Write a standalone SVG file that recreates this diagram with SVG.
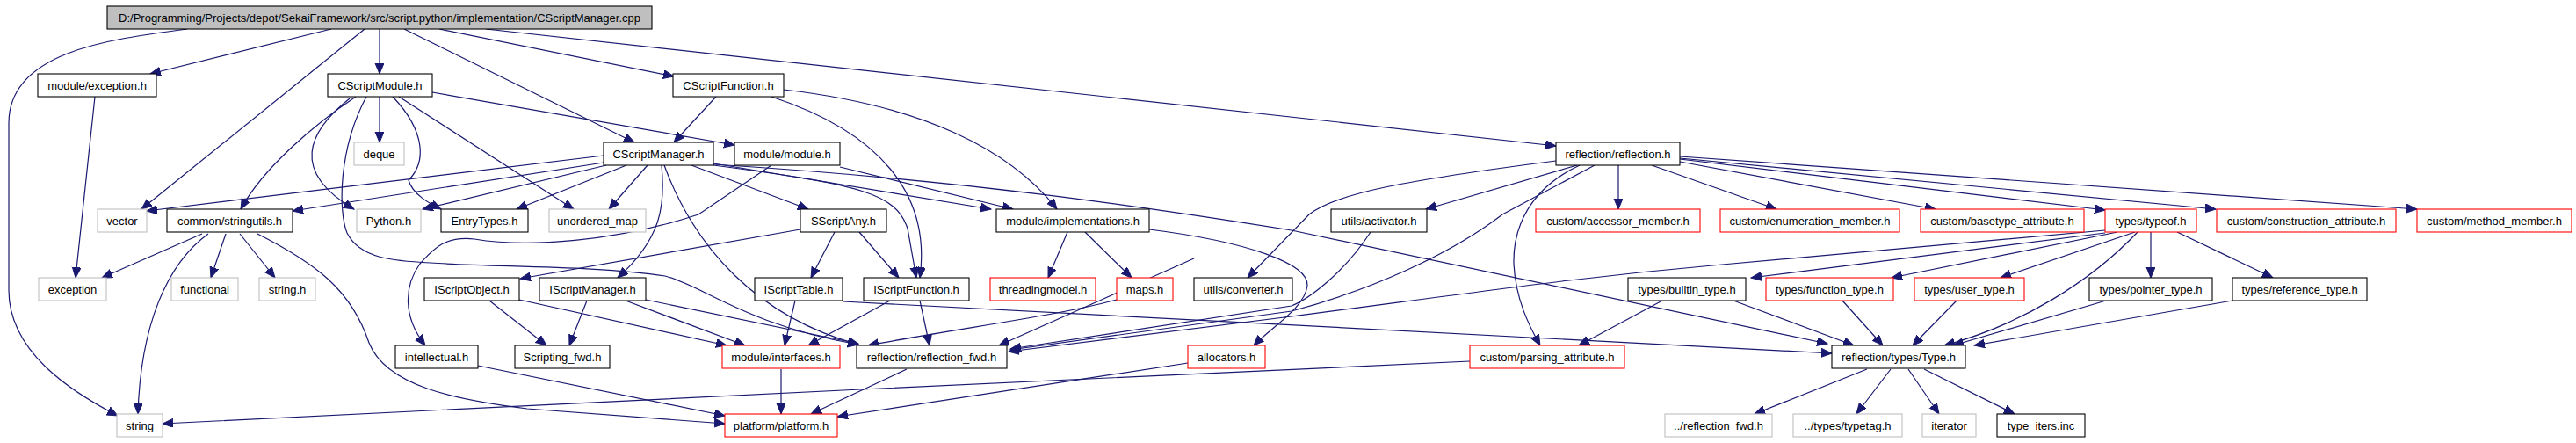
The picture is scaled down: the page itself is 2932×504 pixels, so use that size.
<svg xmlns="http://www.w3.org/2000/svg" width="2932" height="504" viewBox="0 0 2932 504">
<style>
.n rect{fill:#fff;stroke:#000;stroke-width:1.1}
.n.r rect{stroke:#ff0000}
.n.g rect{stroke:#bfbfbf}
.n.root rect{fill:#bfbfbf}
.n text{font-family:"Liberation Sans",Arial,sans-serif;font-size:13px;fill:#000;text-anchor:middle}
.e path{fill:none;stroke:#191970;stroke-width:1.2;marker-end:url(#a)}
</style>
<defs>
<marker id="a" markerUnits="userSpaceOnUse" markerWidth="13" markerHeight="11" refX="12" refY="5" orient="auto" viewBox="0 0 13 11">
<path d="M0,0 L12,5 L0,10 z" fill="#191970" stroke="#191970"/>
</marker>
</defs>
<rect width="2932" height="504" fill="#fff"/>
<g class="e" id="edges">
<path d="M213,33 C120,45 10,60 10,140 L10,330 C10,400 80,445 134,473"/>
<path d="M377,33 L171,84"/>
<path d="M415,33 L161,238"/>
<path d="M432,33 L432,84"/>
<path d="M460,33 L722,162"/>
<path d="M500,33 L767,87"/>
<path d="M553,33 L1771,166"/>
<path d="M108,110 L86,316"/>
<path d="M432,110 L432,162"/>
<path d="M405,110 C360,140 300,190 274,238"/>
<path d="M398,112 C350,150 330,195 403,238"/>
<path d="M417,110 C385,170 385,240 395,265 C410,295 450,297 490,299 C560,304 680,302 757,314 C800,325 850,370 977,392"/>
<path d="M447,110 C485,150 485,185 465,205 C470,222 490,232 502,238"/>
<path d="M454,110 L653,238"/>
<path d="M492,105 L836,165"/>
<path d="M815,110 L767,162"/>
<path d="M892,102 C1050,120 1150,170 1203,238"/>
<path d="M878,110 C1000,150 1060,220 1047,316"/>
<path d="M687,177 L167,240"/>
<path d="M687,185 L333,240"/>
<path d="M690,188 L481,238"/>
<path d="M713,188 L588,238"/>
<path d="M737,188 L693,238"/>
<path d="M753,188 C757,230 755,270 703,316"/>
<path d="M756,188 C790,280 860,360 977,392"/>
<path d="M787,188 L920,238"/>
<path d="M812,186 L1128,238"/>
<path d="M956,190 L1153,238"/>
<path d="M812,187 C1100,205 1300,235 1470,262 L2080,391"/>
<path d="M812,188 C980,210 1020,220 1033,260 L1043,316"/>
<path d="M878,188 L795,244 C700,275 600,282 540,272 C505,268 492,285 478,300 C460,325 458,360 484,393"/>
<path d="M911,261 L592,317"/>
<path d="M950,264 L923,316"/>
<path d="M978,264 L1023,316"/>
<path d="M1215,264 L1193,316"/>
<path d="M1235,264 L1288,316"/>
<path d="M1308,261 C1420,275 1490,300 1488,325 C1485,350 1450,370 1427,393"/>
<path d="M557,342 L622,393"/>
<path d="M591,341 L827,393"/>
<path d="M668,342 L648,393"/>
<path d="M712,342 L848,393"/>
<path d="M735,341 L977,391"/>
<path d="M905,342 L893,393"/>
<path d="M959,343 L2085,402"/>
<path d="M1013,342 L920,393"/>
<path d="M1047,342 L1058,393"/>
<path d="M1271,341 C1200,360 1100,372 988,393"/>
<path d="M1359,294 L1137,393"/>
<path d="M1560,264 C1530,310 1490,340 1470,348 L1150,397"/>
<path d="M1815,188 L1710,244 C1650,290 1560,330 1470,354 L1150,398"/>
<path d="M2396,262 L1960,301 C1800,315 1700,330 1470,360 L1148,400"/>
<path d="M1771,183 C1600,205 1520,220 1490,244 L1420,316"/>
<path d="M1795,188 L1623,238"/>
<path d="M1798,188 C1740,215 1722,260 1723,300 C1725,340 1740,370 1753,393"/>
<path d="M1842,188 L1842,238"/>
<path d="M1880,188 L2022,238"/>
<path d="M1912,184 L2203,238"/>
<path d="M1912,181 L2396,239"/>
<path d="M1912,180 L2522,238"/>
<path d="M1912,178 L2751,238"/>
<path d="M2396,265 L1993,316"/>
<path d="M2410,264 L2153,316"/>
<path d="M2430,264 L2277,316"/>
<path d="M2433,264 C2380,320 2300,370 2213,393"/>
<path d="M2448,264 L2448,316"/>
<path d="M2478,264 L2587,316"/>
<path d="M1892,342 L1797,393"/>
<path d="M1973,342 L2110,393"/>
<path d="M2097,342 L2143,393"/>
<path d="M2227,342 L2177,393"/>
<path d="M2397,342 L2223,393"/>
<path d="M2541,342 L2247,393"/>
<path d="M2125,420 L1997,471"/>
<path d="M2152,420 L2113,471"/>
<path d="M2172,420 L2207,471"/>
<path d="M2190,420 L2293,471"/>
<path d="M544,416 L825,473"/>
<path d="M889,420 L889,471"/>
<path d="M1032,420 L923,471"/>
<path d="M1352,413 L953,474"/>
<path d="M293,266 C360,300 400,330 420,390 C440,440 520,455 600,465 L825,482"/>
<path d="M1673,411 L980,443 L490,467 L185,482"/>
<path d="M230,266 L116,316"/>
<path d="M237,266 C190,300 160,370 157,471"/>
<path d="M257,266 L240,316"/>
<path d="M273,266 L313,316"/>
</g>
<g class="n root" id="n0"><rect x="122" y="7" width="620" height="26"/><text x="432" y="25">D:/Programming/Projects/depot/SekaiFramework/src/script.python/implementation/CScriptManager.cpp</text></g>
<g class="n" id="n1"><rect x="43" y="84" width="135" height="26"/><text x="110.5" y="102">module/exception.h</text></g>
<g class="n" id="n2"><rect x="373" y="84" width="119" height="26"/><text x="432.5" y="102">CScriptModule.h</text></g>
<g class="n" id="n3"><rect x="766" y="84" width="126" height="26"/><text x="829" y="102">CScriptFunction.h</text></g>
<g class="n g" id="n4"><rect x="403" y="162" width="57" height="26"/><text x="431.5" y="180">deque</text></g>
<g class="n" id="n5"><rect x="687" y="162" width="125" height="26"/><text x="749.5" y="180">CScriptManager.h</text></g>
<g class="n" id="n6"><rect x="836" y="162" width="120" height="26"/><text x="896" y="180">module/module.h</text></g>
<g class="n" id="n7"><rect x="1771" y="162" width="141" height="26"/><text x="1841.5" y="180">reflection/reflection.h</text></g>
<g class="n g" id="n8"><rect x="111" y="238" width="56" height="26"/><text x="139" y="256">vector</text></g>
<g class="n" id="n9"><rect x="190" y="238" width="143" height="26"/><text x="261.5" y="256">common/stringutils.h</text></g>
<g class="n g" id="n10"><rect x="406" y="238" width="73" height="26"/><text x="442.5" y="256">Python.h</text></g>
<g class="n" id="n11"><rect x="502" y="238" width="99" height="26"/><text x="551.5" y="256">EntryTypes.h</text></g>
<g class="n g" id="n12"><rect x="625" y="238" width="110" height="26"/><text x="680" y="256">unordered_map</text></g>
<g class="n" id="n13"><rect x="911" y="238" width="98" height="26"/><text x="960" y="256">SScriptAny.h</text></g>
<g class="n" id="n14"><rect x="1134" y="238" width="174" height="26"/><text x="1221" y="256">module/implementations.h</text></g>
<g class="n" id="n15"><rect x="1515" y="238" width="109" height="26"/><text x="1569.5" y="256">utils/activator.h</text></g>
<g class="n r" id="n16"><rect x="1748" y="238" width="187" height="26"/><text x="1841.5" y="256">custom/accessor_member.h</text></g>
<g class="n r" id="n17"><rect x="1958" y="238" width="204" height="26"/><text x="2060" y="256">custom/enumeration_member.h</text></g>
<g class="n r" id="n18"><rect x="2186" y="238" width="186" height="26"/><text x="2279" y="256">custom/basetype_attribute.h</text></g>
<g class="n r" id="n19"><rect x="2396" y="238" width="104" height="26"/><text x="2448" y="256">types/typeof.h</text></g>
<g class="n r" id="n20"><rect x="2523" y="238" width="204" height="26"/><text x="2625" y="256">custom/construction_attribute.h</text></g>
<g class="n r" id="n21"><rect x="2751" y="238" width="176" height="26"/><text x="2839" y="256">custom/method_member.h</text></g>
<g class="n g" id="n22"><rect x="44" y="316" width="77" height="26"/><text x="82.5" y="334">exception</text></g>
<g class="n g" id="n23"><rect x="195" y="316" width="76" height="26"/><text x="233" y="334">functional</text></g>
<g class="n g" id="n24"><rect x="295" y="316" width="64" height="26"/><text x="327" y="334">string.h</text></g>
<g class="n" id="n25"><rect x="483" y="316" width="108" height="26"/><text x="537" y="334">IScriptObject.h</text></g>
<g class="n" id="n26"><rect x="614" y="316" width="121" height="26"/><text x="674.5" y="334">IScriptManager.h</text></g>
<g class="n" id="n27"><rect x="859" y="316" width="100" height="26"/><text x="909" y="334">IScriptTable.h</text></g>
<g class="n" id="n28"><rect x="983" y="316" width="120" height="26"/><text x="1043" y="334">IScriptFunction.h</text></g>
<g class="n r" id="n29"><rect x="1127" y="316" width="120" height="26"/><text x="1187" y="334">threadingmodel.h</text></g>
<g class="n r" id="n30"><rect x="1271" y="316" width="64" height="26"/><text x="1303" y="334">maps.h</text></g>
<g class="n" id="n31"><rect x="1359" y="316" width="112" height="26"/><text x="1415" y="334">utils/converter.h</text></g>
<g class="n" id="n32"><rect x="1853" y="316" width="134" height="26"/><text x="1920" y="334">types/builtin_type.h</text></g>
<g class="n r" id="n33"><rect x="2010" y="316" width="145" height="26"/><text x="2082.5" y="334">types/function_type.h</text></g>
<g class="n r" id="n34"><rect x="2179" y="316" width="125" height="26"/><text x="2241.5" y="334">types/user_type.h</text></g>
<g class="n" id="n35"><rect x="2378" y="316" width="140" height="26"/><text x="2448" y="334">types/pointer_type.h</text></g>
<g class="n" id="n36"><rect x="2541" y="316" width="153" height="26"/><text x="2617.5" y="334">types/reference_type.h</text></g>
<g class="n" id="n37"><rect x="450" y="393" width="94" height="26"/><text x="497" y="411">intellectual.h</text></g>
<g class="n" id="n38"><rect x="586" y="393" width="108" height="26"/><text x="640" y="411">Scripting_fwd.h</text></g>
<g class="n r" id="n39"><rect x="822" y="393" width="134" height="26"/><text x="889" y="411">module/interfaces.h</text></g>
<g class="n" id="n40"><rect x="975" y="393" width="171" height="26"/><text x="1060.5" y="411">reflection/reflection_fwd.h</text></g>
<g class="n r" id="n41"><rect x="1352" y="393" width="88" height="26"/><text x="1396" y="411">allocators.h</text></g>
<g class="n r" id="n42"><rect x="1673" y="393" width="176" height="26"/><text x="1761" y="411">custom/parsing_attribute.h</text></g>
<g class="n" id="n43"><rect x="2085" y="393" width="152" height="26"/><text x="2161" y="411">reflection/types/Type.h</text></g>
<g class="n g" id="n44"><rect x="133" y="471" width="52" height="26"/><text x="159" y="489">string</text></g>
<g class="n r" id="n45"><rect x="825" y="471" width="128" height="26"/><text x="889" y="489">platform/platform.h</text></g>
<g class="n g" id="n46"><rect x="1895" y="471" width="122" height="26"/><text x="1956" y="489">../reflection_fwd.h</text></g>
<g class="n g" id="n47"><rect x="2041" y="471" width="124" height="26"/><text x="2103" y="489">../types/typetag.h</text></g>
<g class="n g" id="n48"><rect x="2188" y="471" width="61" height="26"/><text x="2218.5" y="489">iterator</text></g>
<g class="n" id="n49"><rect x="2273" y="471" width="100" height="26"/><text x="2323" y="489">type_iters.inc</text></g>
</svg>
